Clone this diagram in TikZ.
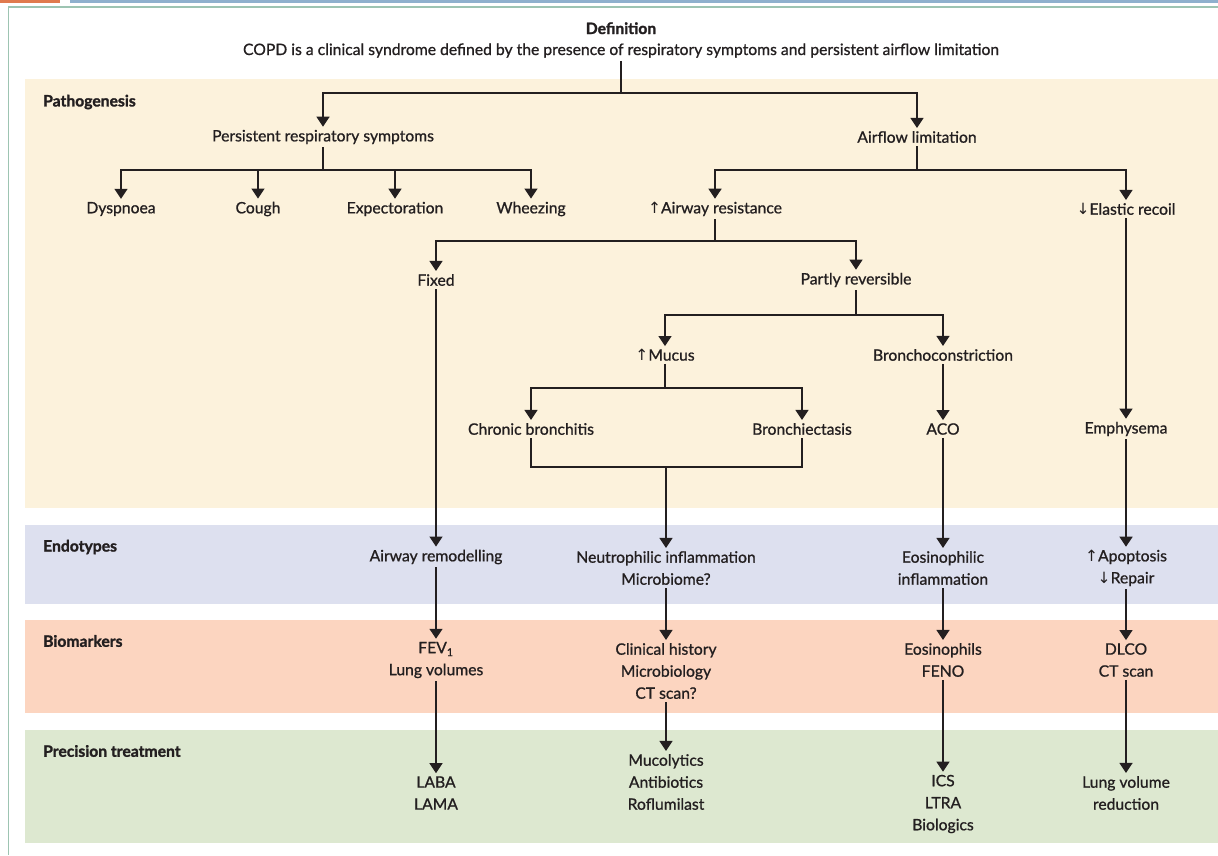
\documentclass[tikz,border=0pt]{standalone}
\usepackage{fontspec}
\setmainfont{Lato}
\newfontfamily\lblfont{Lato}[FakeBold=0.9]
\newfontfamily\headfont{Lato}[UprightFeatures={FakeBold=1.5}, UprightFont=*-Bold]
\newfontfamily\symfont{DejaVu Sans}
\usetikzlibrary{arrows.meta}

\definecolor{ink}{HTML}{231F20}
\definecolor{cream}{HTML}{FCF2DC}
\definecolor{lavender}{HTML}{DDE0EF}
\definecolor{peach}{HTML}{FCD5C0}
\definecolor{sage}{HTML}{DDE8D0}
\definecolor{barorange}{HTML}{E07A4E}
\definecolor{barblue}{HTML}{8FB0CD}
\definecolor{frameline}{HTML}{9DC4B2}

\newcommand{\incr}{{\symfont\fontsize{15.5}{15}\selectfont ↑}}
\newcommand{\decr}{{\symfont\fontsize{15.5}{15}\selectfont ↓}}

\tikzset{
  lbl/.style={font=\lblfont\fontsize{15.7}{22}\selectfont, align=center, inner sep=3pt, text=ink},
  head/.style={font=\headfont\fontsize{15.7}{22}\selectfont, anchor=west, inner sep=0pt, text=ink},
  ln/.style={line width=1.4pt, draw=ink},
  arr/.style={ln, -{Triangle[width=13pt,length=10pt]}},
}

\begin{document}
\begin{tikzpicture}[x=1pt,y=-1pt]
\useasboundingbox (0,0) rectangle (1218,855);

% page furniture
\fill[barorange] (0,0) rectangle (60,2.5);
\fill[barblue] (70,0) rectangle (1218,2.5);
\draw[frameline, line width=1.2pt] (1218,7) -- (8.5,7) -- (8.5,855);

% bands
\fill[cream] (25,79) rectangle (1218,508);
\fill[lavender] (25,525) rectangle (1218,604);
\fill[peach] (25,620) rectangle (1218,713);
\fill[sage] (25,730) rectangle (1218,843);

\node[head] (hpath) at (43,102) {Pathogenesis};
\node[head] (hendo) at (43,547) {Endotypes};
\node[head] (hbio) at (43,641) {Biomarkers};
\node[head] (htreat) at (43,751) {Precision treatment};

% definition
\node[lbl, font=\fontsize{15.7}{21}\selectfont] (def) at (621,40)
  {{\headfont Definition}\\{\lblfont COPD is a clinical syndrome defined by the presence of respiratory symptoms and persistent airflow limitation}};

% pathogenesis tree
\node[lbl] (prs) at (323,137) {Persistent respiratory symptoms};
\node[lbl] (afl) at (917,137) {Airflow limitation};

\node[lbl] (dys) at (121,209) {Dyspnoea};
\node[lbl] (cough) at (258,209) {Cough};
\node[lbl] (expec) at (395,209) {Expectoration};
\node[lbl] (wheeze) at (531,209) {Wheezing};
\node[lbl] (aw) at (715,209) {\incr Airway resistance};
\node[lbl] (er) at (1126,209) {\decr Elastic recoil};

\node[lbl] (fixed) at (436,280) {Fixed};
\node[lbl] (pr) at (856,280) {Partly reversible};

\node[lbl] (mucus) at (665,355) {\incr Mucus};
\node[lbl] (bc) at (943,355) {Bronchoconstriction};

\node[lbl] (cb) at (531,429) {Chronic bronchitis};
\node[lbl] (bx) at (802,429) {Bronchiectasis};
\node[lbl] (aco) at (943,429) {ACO};
\node[lbl] (emph) at (1126,429) {Emphysema};

% endotypes
\node[lbl] (arem) at (436,557) {Airway remodelling};
\node[lbl] (neu) at (666,568) {Neutrophilic inflammation\\Microbiome?};
\node[lbl] (eos) at (943,568) {Eosinophilic\\inflammation};
\node[lbl] (apo) at (1126,568) {\incr Apoptosis\\\decr Repair};

% biomarkers
\node[lbl] (fev) at (436,660) {FEV\textsubscript{1}\\Lung volumes};
\node[lbl] (clin) at (666,671) {Clinical history\\Microbiology\\CT scan?};
\node[lbl] (eosb) at (943,660) {Eosinophils\\FENO};
\node[lbl] (dlco) at (1126,660) {DLCO\\CT scan};

% treatments
\node[lbl] (laba) at (436,793) {LABA\\LAMA};
\node[lbl] (muco) at (666,782) {Mucolytics\\Antibiotics\\Roflumilast};
\node[lbl] (ics) at (943,804) {ICS\\LTRA\\Biologics};
\node[lbl] (lvr) at (1126,793) {Lung volume\\reduction};

% junctions
\coordinate (j0) at (621,93);
\coordinate (j1) at (323,170);
\coordinate (j2) at (917,170);
\coordinate (j3) at (715,241);
\coordinate (j4) at (856,315);
\coordinate (j5) at (665,388);
\coordinate (j6) at (666,467);

% connectors
\draw[ln] (def.south) -- (j0);
\draw[arr] (j0) -| (prs);
\draw[arr] (j0) -| (afl);

\draw[ln] (prs.south) -- (j1);
\draw[arr] (j1) -| (dys);
\draw[arr] (j1) -| (cough);
\draw[arr] (j1) -| (expec);
\draw[arr] (j1) -| (wheeze);

\draw[ln] (afl.south) -- (j2);
\draw[arr] (j2) -| (aw);
\draw[arr] (j2) -| (er);

\draw[ln] (aw.south) -- (j3);
\draw[arr] (j3) -| (fixed);
\draw[arr] (j3) -| (pr);

\draw[ln] (pr.south) -- (j4);
\draw[arr] (j4) -| (mucus);
\draw[arr] (j4) -| (bc);

\draw[ln] (mucus.south) -- (j5);
\draw[arr] (j5) -| (cb);
\draw[arr] (j5) -| (bx);

\draw[arr] (bc) -- (aco);
\draw[arr] (er) -- (emph);

\draw[ln] (cb.south) |- (j6) -| (bx.south);
\draw[arr] (j6) -- (neu);
\draw[arr] (fixed) -- (arem);
\draw[arr] (aco) -- (eos);
\draw[arr] (emph) -- (apo);

\draw[arr] (arem) -- (fev);
\draw[arr] (neu) -- (clin);
\draw[arr] (eos) -- (eosb);
\draw[arr] (apo) -- (dlco);

\draw[arr] (fev) -- (laba);
\draw[arr] (clin) -- (muco);
\draw[arr] (eosb) -- (ics);
\draw[arr] (dlco) -- (lvr);
\end{tikzpicture}
\end{document}
